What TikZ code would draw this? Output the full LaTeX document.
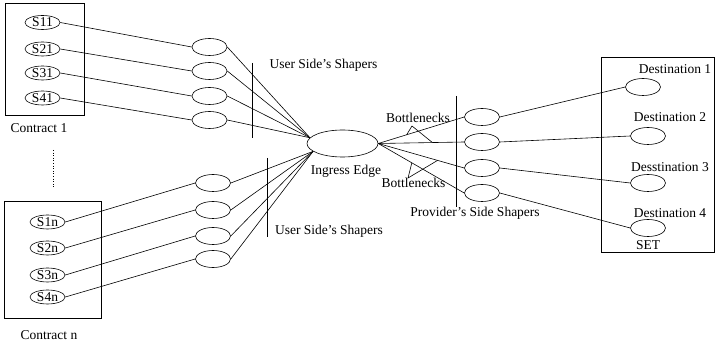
\documentclass[tikz,border=0pt]{standalone}
\usepackage{fontspec}
\setmainfont{Liberation Serif}
\usetikzlibrary{shapes.geometric}
\begin{document}
\begin{tikzpicture}[x=1pt,y=-1pt,line width=0.6pt,
  every node/.style={font=\fontsize{13.5}{15}\selectfont},
  src/.style={ellipse,draw,inner sep=0pt,minimum width=35,minimum height=14},
  shp/.style={ellipse,draw,minimum width=35,minimum height=17},
  lbl/.style={inner sep=0pt}]
\useasboundingbox (0,0) rectangle (715,347);
% contract 1
\draw (5,3) rectangle (84,115);
\node[src] (s11) at (42.5,22.5) {S11};
\node[src] (s21) at (42.5,49) {S21};
\node[src] (s31) at (42.5,73) {S31};
\node[src] (s41) at (42.5,98) {S41};
\node[lbl] (c1) at (39,128) {Contract 1};
\draw[dotted] (53,150) -- (53,187);
% contract n
\draw (4,201) rectangle (101,318);
\node[src] (s1n) at (47.5,222) {S1n};
\node[src] (s2n) at (47.5,248) {S2n};
\node[src] (s3n) at (47.5,275) {S3n};
\node[src] (s4n) at (47.5,297) {S4n};
\node[lbl] (cn) at (49,335) {Contract n};
% user side shapers
\node[shp] (u1) at (209.5,47) {};
\node[shp] (u2) at (209.5,71) {};
\node[shp] (u3) at (209.5,96) {};
\node[shp] (u4) at (209.5,120) {};
\node[shp] (w1) at (213,183) {};
\node[shp] (w2) at (213,210) {};
\node[shp] (w3) at (213,236) {};
\node[shp] (w4) at (213,259) {};
\draw (s11.east) -- (u1.west);
\draw (s21.east) -- (u2.west);
\draw (s31.east) -- (u3.west);
\draw (s41.east) -- (u4.west);
\draw (s1n.east) -- (w1.west);
\draw (s2n.east) -- (w2.west);
\draw (s3n.east) -- (w3.west);
\draw (s4n.east) -- (w4.west);
\draw (252,63) -- (252,138);
\draw (267,158) -- (267,237);
\node[lbl] (us1) at (323.5,65) {User Side's Shapers};
\node[lbl] (us2) at (329,231) {User Side's Shapers};
% ingress edge
\node[ellipse,draw,minimum width=71,minimum height=27] (ing) at (342.5,143.5) {};
\node[lbl] (ingl) at (346,171) {Ingress Edge};
\foreach \i in {1,...,4} {
  \draw (u\i.east) -- (ing.170);
  \draw (w\i.east) -- (ing.195);
}
% provider side shapers
\node[shp] (p1) at (482,117) {};
\node[shp] (p2) at (482,142) {};
\node[shp] (p3) at (482,168) {};
\node[shp] (p4) at (482,193) {};
\draw (456,96) -- (456,207);
\node[lbl] (ps) at (475,213) {Provider's Side Shapers};
\draw (ing.east) -- (p1.west) coordinate[pos=0.33] (b1);
\draw (ing.east) -- (p2.west) coordinate[pos=0.63] (b2);
\draw (ing.east) -- (p3.west) coordinate[pos=0.69] (b3);
\draw (ing.east) -- (p4.west) coordinate[pos=0.39] (b4);
% bottlenecks
\node[lbl] (bn1) at (418,118) {Bottlenecks};
\node[lbl] (bn2) at (413.5,183) {Bottlenecks};
\coordinate (t1) at (412,126);
\coordinate (t2) at (408,178);
\draw (b1) -- (t1) -- (b2);
\draw (b4) -- (t2) -- (b3);
% destinations
\draw (601,57) rectangle (714,252);
\node[shp] (d1) at (643,87) {};
\node[shp] (d2) at (648,136) {};
\node[shp] (d3) at (648,183) {};
\node[shp] (d4) at (648,228) {};
\node[lbl] (dl1) at (675,69) {Destination 1};
\node[lbl] (dl2) at (670,117) {Destination 2};
\node[lbl] (dl3) at (670,167) {Desstination 3};
\node[lbl] (dl4) at (670,213) {Destination 4};
\node[lbl] (set) at (648,245) {SET};
\foreach \i in {1,...,4}
  \draw (p\i.east) -- (d\i.west);
\end{tikzpicture}
\end{document}
